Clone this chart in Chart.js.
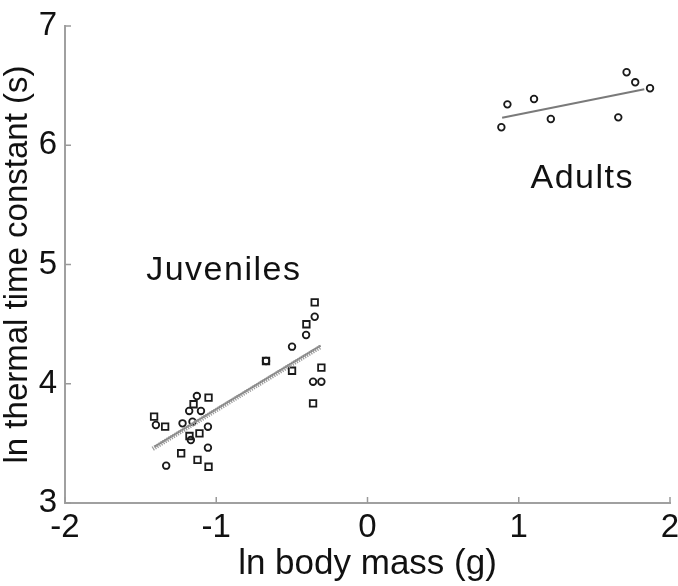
<!DOCTYPE html>
<html>
<head>
<meta charset="utf-8">
<script src="https://cdn.jsdelivr.net/npm/chart.js@4.4.1/dist/chart.umd.min.js"></script>
<style>
  html, body { margin: 0; padding: 0; background: #fff; }
  #wrap { width: 678px; height: 586px; }
</style>
</head>
<body>
<div id="wrap"><canvas id="c" width="678" height="586"></canvas></div>
<script>
// juveniles, circles
var juvCircX = [-1.128, -1.179, -1.101, -1.399, -1.223, -1.157, -1.055, -1.168, -1.055, -1.331,
                -0.671, -0.499, -0.406, -0.349, -0.360, -0.305];
var juvCircY = [3.897, 3.772, 3.772, 3.654, 3.668, 3.682, 3.640, 3.528, 3.464, 3.313,
                4.191, 4.311, 4.409, 4.562, 4.017, 4.017];
// juveniles, squares
var juvSqX = [-1.051, -1.150, -1.411, -1.338, -1.177, -1.111, -1.232, -1.124, -1.051,
              -0.671, -0.499, -0.305, -0.360, -0.404, -0.349];
var juvSqY = [3.883, 3.828, 3.724, 3.640, 3.562, 3.584, 3.417, 3.361, 3.304,
              4.191, 4.109, 4.135, 3.836, 4.499, 4.683];
// adults
var adultX = [0.885, 0.925, 1.101, 1.212, 1.658, 1.713, 1.770, 1.868];
var adultY = [6.151, 6.343, 6.388, 6.220, 6.234, 6.612, 6.528, 6.478];
// fitted lines (end points)
var fitJuvAX = [-1.41, -0.31], fitJuvAY = [3.47, 4.32];
var fitJuvBX = [-1.42, -0.31], fitJuvBY = [3.455, 4.31];
var fitAdultX = [0.89, 1.83], fitAdultY = [6.23, 6.47];

var xTicks = [-2, -1, 0, 1, 2];
var yTicks = [3, 4, 5, 6, 7];

var groupLabels = ['Juveniles', 'Adults'];
var groupLabelX = [-0.95, 1.42];
var groupLabelY = [4.95, 5.72];

function pts(xs, ys) {
  return xs.map(function(x, i) { return { x: x, y: ys[i] }; });
}

var FONT = "'Liberation Sans', Arial, sans-serif";

// tick marks drawn inside the axes (matlab style)
var innerTicks = {
  id: 'innerTicks',
  afterDatasetsDraw: function(chart) {
    var ctx = chart.ctx, xs = chart.scales.x, ys = chart.scales.y;
    var a = chart.chartArea;
    ctx.save();
    ctx.strokeStyle = '#9a9a9a';
    ctx.lineWidth = 1.5;
    ctx.beginPath();
    xTicks.forEach(function(v) {
      var px = xs.getPixelForValue(v);
      ctx.moveTo(px, a.bottom);
      ctx.lineTo(px, a.bottom - 6);
    });
    yTicks.forEach(function(v) {
      var py = ys.getPixelForValue(v);
      ctx.moveTo(a.left, py);
      ctx.lineTo(a.left + 6, py);
    });
    ctx.stroke();
    ctx.restore();
  }
};

var groupText = {
  id: 'groupText',
  afterDatasetsDraw: function(chart) {
    var ctx = chart.ctx, xs = chart.scales.x, ys = chart.scales.y;
    ctx.save();
    ctx.fillStyle = '#111';
    ctx.font = '34px ' + FONT;
    ctx.letterSpacing = '1.5px';
    ctx.textAlign = 'center';
    ctx.textBaseline = 'middle';
    groupLabels.forEach(function(t, i) {
      ctx.fillText(t, xs.getPixelForValue(groupLabelX[i]), ys.getPixelForValue(groupLabelY[i]));
    });
    ctx.restore();
  }
};

var markerBase = {
  showLine: false,
  backgroundColor: 'rgba(255,255,255,0)',
  borderColor: '#1a1a1a',
  pointBorderWidth: 1.8
};

new Chart(document.getElementById('c').getContext('2d'), {
  type: 'scatter',
  data: {
    datasets: [
      { label: 'fitJuvB', data: pts(fitJuvBX, fitJuvBY), showLine: true, borderColor: '#9c9c9c',
        borderWidth: 4.5, borderDash: [1.2, 1.2], pointRadius: 0 },
      { label: 'fitJuvA', data: pts(fitJuvAX, fitJuvAY), showLine: true, borderColor: '#808080',
        borderWidth: 2, pointRadius: 0 },
      { label: 'fitAdult', data: pts(fitAdultX, fitAdultY), showLine: true, borderColor: '#7a7a7a',
        borderWidth: 2, pointRadius: 0 },
      Object.assign({ label: 'juvCirc', data: pts(juvCircX, juvCircY), pointStyle: 'circle', pointRadius: 3.3 }, markerBase),
      Object.assign({ label: 'juvSq', data: pts(juvSqX, juvSqY), pointStyle: 'rect', pointRadius: 4.6 }, markerBase),
      Object.assign({ label: 'adult', data: pts(adultX, adultY), pointStyle: 'circle', pointRadius: 3.3 }, markerBase)
    ]
  },
  options: {
    responsive: false,
    animation: false,
    layout: { padding: { top: 26, right: 8, left: 0, bottom: 0 } },
    plugins: {
      legend: { display: false },
      tooltip: { enabled: false }
    },
    scales: {
      x: {
        type: 'linear', min: -2, max: 2,
        afterBuildTicks: function(s) { s.ticks = xTicks.map(function(v) { return { value: v }; }); },
        afterFit: function(s) { s.height = 83; s.paddingLeft = 0; s.paddingRight = 0; },
        grid: { drawOnChartArea: false, drawTicks: false },
        border: { color: '#a0a0a0', width: 2 },
        ticks: { color: '#111', padding: 5, maxRotation: 0, font: { family: FONT, size: 33 } },
        title: { display: true, text: 'ln body mass (g)', color: '#111',
                 padding: { top: 0, bottom: 1 }, font: { family: FONT, size: 35 } }
      },
      y: {
        type: 'linear', min: 3, max: 7,
        afterBuildTicks: function(s) { s.ticks = yTicks.map(function(v) { return { value: v }; }); },
        afterFit: function(s) { s.width = 65; s.paddingTop = 0; s.paddingBottom = 0; },
        grid: { drawOnChartArea: false, drawTicks: false },
        border: { color: '#a0a0a0', width: 2 },
        ticks: { color: '#111', padding: 8, font: { family: FONT, size: 33 } },
        title: { display: true, text: 'ln thermal time constant (s)', color: '#111',
                 padding: { top: 0, bottom: 0 }, font: { family: FONT, size: 33, lineHeight: 1.1 } }
      }
    }
  },
  plugins: [innerTicks, groupText]
});
</script>
</body>
</html>
